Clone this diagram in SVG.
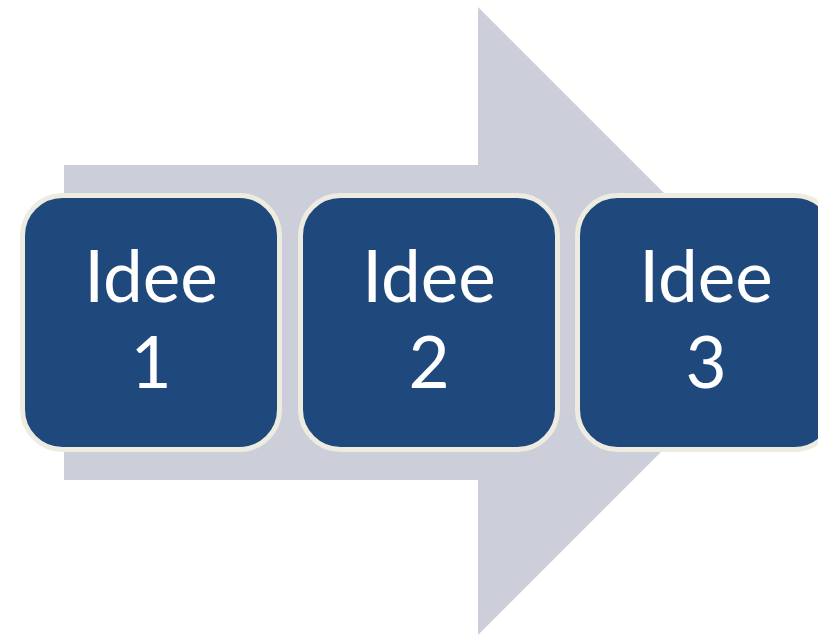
<svg xmlns="http://www.w3.org/2000/svg" width="818" height="635" viewBox="0 0 818 635">
<style>
.box{fill:#1F497C;stroke:#EEECE1;stroke-width:5}
.lbl{font-family:Lato,"Open Sans","Liberation Sans",sans-serif;font-size:71px;fill:#FFFFFF;text-anchor:middle}
</style>
<rect width="818" height="635" fill="#FFFFFF"/>
<g id="arrow">
<polygon points="64,165 478,165 478,7 792,321 478,635 478,480 64,480" fill="#CCCFDA"/>
</g>
<g id="connectors"></g>
<g id="node1">
<rect class="box" x="22.5" y="195.5" width="257" height="254" rx="40"/>
<text class="lbl" x="151" y="302">Idee</text>
<text class="lbl" x="151" y="388">1</text>
</g>
<g id="node2">
<rect class="box" x="300.5" y="195.5" width="257" height="254" rx="40"/>
<text class="lbl" x="429" y="302">Idee</text>
<text class="lbl" x="429" y="388">2</text>
</g>
<g id="node3">
<rect class="box" x="577.5" y="195.5" width="257" height="254" rx="40"/>
<text class="lbl" x="706" y="302">Idee</text>
<text class="lbl" x="706" y="388">3</text>
</g>
</svg>
